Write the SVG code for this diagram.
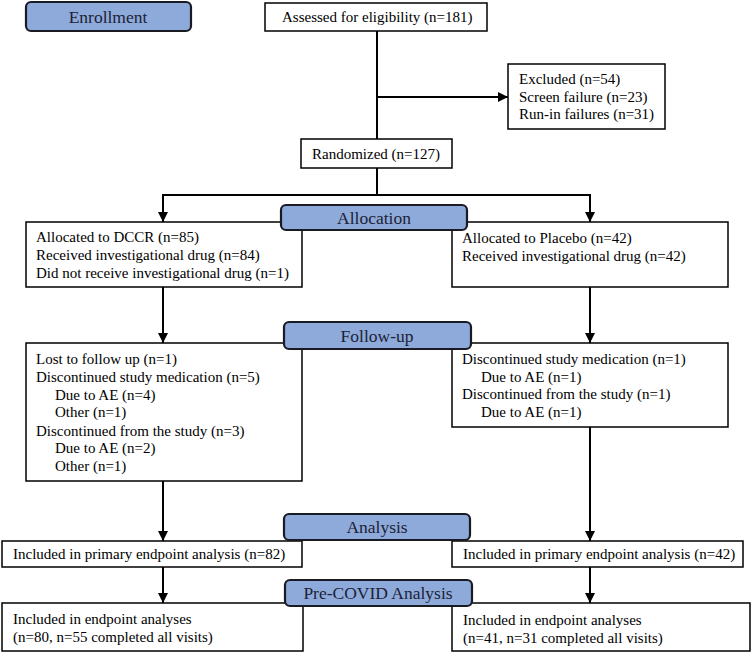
<svg xmlns="http://www.w3.org/2000/svg" width="754" height="653" viewBox="0 0 754 653">
<defs>
<marker id="arr" viewBox="0 0 10 10" refX="10" refY="5" markerWidth="5" markerHeight="5" orient="auto" markerUnits="strokeWidth">
<path d="M0,0 L10,5 L0,10 z" fill="#000"/>
</marker>
<style>
.box{fill:#fff;stroke:#000;stroke-width:1.5}
.hdr{fill:#8eaadb;stroke:#1a1a22;stroke-width:2.2}
.t{font-size:15px;fill:#000}
.h{font-size:17.5px;fill:#1c2235;text-anchor:middle}
.ln{fill:none;stroke:#000;stroke-width:2}
</style>
</defs>
<rect width="754" height="653" fill="#fff"/>
<g id="connectors">
<path class="ln" d="M377,31 V139"/>
<path class="ln" d="M377,97 H508" marker-end="url(#arr)"/>
<path class="ln" d="M377,168 V195"/>
<path class="ln" d="M377,195 H163 V222" marker-end="url(#arr)"/>
<path class="ln" d="M377,195 H590 V222" marker-end="url(#arr)"/>
<path class="ln" d="M163,287 V343" marker-end="url(#arr)"/>
<path class="ln" d="M590,287 V343" marker-end="url(#arr)"/>
<path class="ln" d="M163,481 V541" marker-end="url(#arr)"/>
<path class="ln" d="M590,427 V541" marker-end="url(#arr)"/>
<path class="ln" d="M163,567 V603" marker-end="url(#arr)"/>
<path class="ln" d="M590,567 V603" marker-end="url(#arr)"/>
</g>
<g font-family="'Liberation Serif', 'Times New Roman', 'DejaVu Serif', serif">
<g id="assessed">
<rect class="box" x="265" y="3" width="222" height="28"/>
<text class="t" x="282" y="22">Assessed  for eligibility (n=181)</text>
</g>
<g id="excluded">
<rect class="box" x="508" y="64" width="157" height="65"/>
<text class="t" x="519" y="84">Excluded (n=54)</text>
<text class="t" x="519" y="102">Screen  failure (n=23)</text>
<text class="t" x="519" y="119">Run-in failures (n=31)</text>
</g>
<g id="randomized">
<rect class="box" x="301" y="139" width="151" height="29"/>
<text class="t" x="312" y="159">Randomized (n=127)</text>
</g>
<g id="dccr">
<rect class="box" x="26" y="222" width="276" height="65"/>
<text class="t" x="36" y="242">Allocated to DCCR (n=85)</text>
<text class="t" x="36" y="260">Received  investigational drug (n=84)</text>
<text class="t" x="36" y="278">Did not receive  investigational drug (n=1)</text>
</g>
<g id="placebo">
<rect class="box" x="452" y="222" width="276" height="65"/>
<text class="t" x="462" y="243">Allocated to Placebo (n=42)</text>
<text class="t" x="462" y="261">Received  investigational drug (n=42)</text>
</g>
<g id="followup-dccr">
<rect class="box" x="26" y="343" width="276" height="138"/>
<text class="t" x="36" y="364">Lost to follow up (n=1)</text>
<text class="t" x="36" y="382">Discontinued study  medication (n=5)</text>
<text class="t" x="55" y="400">Due to AE  (n=4)</text>
<text class="t" x="55" y="417">Other (n=1)</text>
<text class="t" x="36" y="436">Discontinued from the study (n=3)</text>
<text class="t" x="55" y="453">Due to AE  (n=2)</text>
<text class="t" x="55" y="471">Other (n=1)</text>
</g>
<g id="followup-placebo">
<rect class="box" x="452" y="343" width="276" height="84"/>
<text class="t" x="462" y="364">Discontinued study  medication (n=1)</text>
<text class="t" x="481" y="382">Due to AE  (n=1)</text>
<text class="t" x="462" y="399">Discontinued from the study (n=1)</text>
<text class="t" x="481" y="417">Due to AE  (n=1)</text>
</g>
<g id="primary-dccr">
<rect class="box" x="2" y="541" width="300" height="26"/>
<text class="t" x="13" y="559">Included in primary endpoint analysis  (n=82)</text>
</g>
<g id="primary-placebo">
<rect class="box" x="452" y="541" width="291" height="26"/>
<text class="t" x="463" y="559">Included in primary endpoint analysis  (n=42)</text>
</g>
<g id="precovid-dccr">
<rect class="box" x="2" y="603" width="301" height="48"/>
<text class="t" x="13" y="624">Included in endpoint analyses</text>
<text class="t" x="13" y="642"> (n=80, n=55 completed all visits)</text>
</g>
<g id="precovid-placebo">
<rect class="box" x="452" y="603" width="298" height="48"/>
<text class="t" x="463" y="625">Included in endpoint analyses</text>
<text class="t" x="463" y="643">(n=41, n=31 completed all visits)</text>
</g>
<g id="hdr-enrollment">
<rect class="hdr" x="26" y="2" width="165" height="29" rx="5"/>
<text class="h" x="108" y="23">Enrollment</text>
</g>
<g id="hdr-allocation">
<rect class="hdr" x="281" y="205" width="186" height="25" rx="5"/>
<text class="h" x="374" y="224">Allocation</text>
</g>
<g id="hdr-followup">
<rect class="hdr" x="284" y="322" width="187" height="27" rx="5"/>
<text class="h" x="377" y="342">Follow-up</text>
</g>
<g id="hdr-analysis">
<rect class="hdr" x="284" y="514" width="186" height="26" rx="5"/>
<text class="h" x="377" y="533">Analysis</text>
</g>
<g id="hdr-precovid">
<rect class="hdr" x="285" y="580" width="187" height="26" rx="5"/>
<text class="h" x="378" y="599">Pre-COVID Analysis</text>
</g>
</g>
</svg>
